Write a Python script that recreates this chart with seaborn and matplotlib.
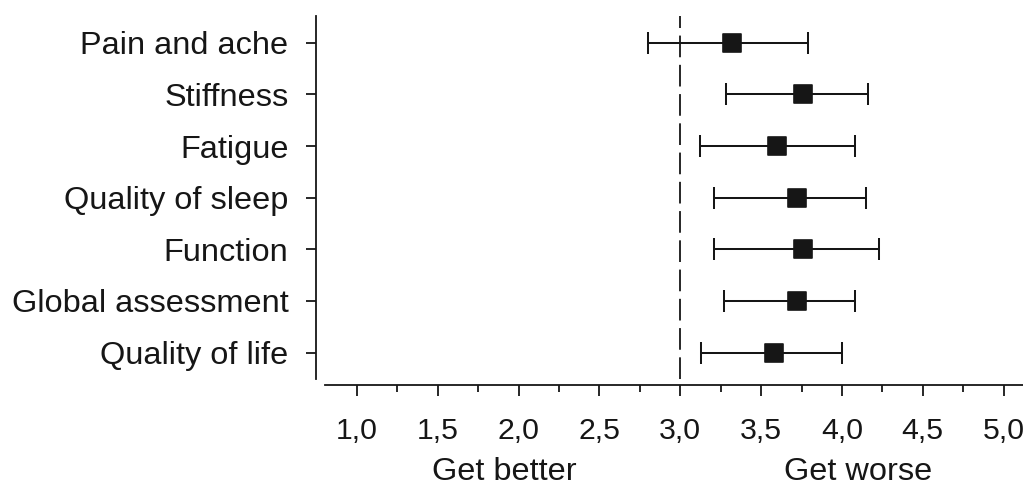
import numpy as np
import matplotlib
matplotlib.use("Agg")
import matplotlib.pyplot as plt
import matplotlib.transforms as mtransforms
from matplotlib.ticker import FixedLocator, FixedFormatter
import seaborn as sns

# values
categories = [
    "Pain and ache",
    "Stiffness",
    "Fatigue",
    "Quality of sleep",
    "Function",
    "Global assessment",
    "Quality of life",
]
means = [3.32, 3.76, 3.60, 3.72, 3.76, 3.72, 3.58]
lower = [2.80, 3.28, 3.12, 3.21, 3.21, 3.27, 3.13]
upper = [3.79, 4.16, 4.08, 4.15, 4.23, 4.08, 4.00]

xticks = [1.0, 1.5, 2.0, 2.5, 3.0, 3.5, 4.0, 4.5, 5.0]
xtick_labels = ["1,0", "1,5", "2,0", "2,5", "3,0", "3,5", "4,0", "4,5", "5,0"]
xminor = [1.25, 1.75, 2.25, 2.75, 3.25, 3.75, 4.25, 4.75]
reference = 3.0
direction_labels = ["Get better", "Get worse"]
direction_pos = [1.91, 4.10]

sns.set_style("ticks")
plt.rcParams["font.family"] = ["Liberation Sans", "DejaVu Sans"]

ink = "#161616"
fs = 23.4

fig = plt.figure(figsize=(10.23, 4.88), dpi=100)
ax = fig.add_axes([0.3086, 0.2234, 0.6914, 0.7438])

ypos = np.arange(len(categories))
means_arr = np.array(means)
xerr = np.vstack([means_arr - np.array(lower), np.array(upper) - means_arr])

ax.axvline(reference, color=ink, lw=1.3, linestyle=(0, (12, 4.2)), zorder=1)
ax.errorbar(means, ypos, xerr=xerr, fmt="none", ecolor=ink, elinewidth=1.45,
            capsize=8, capthick=1.45, zorder=2)
sns.scatterplot(x=means, y=ypos, marker="s", s=175, color=ink, edgecolor=ink,
                linewidth=1.2, ax=ax, zorder=3, legend=False)
for coll in ax.collections:
    coll.set_joinstyle("round")

ax.set_xlim(0.745, 5.12)
ax.set_ylim(6.51, -0.517)

ax.xaxis.set_major_locator(FixedLocator(xticks))
ax.xaxis.set_major_formatter(FixedFormatter(xtick_labels))
ax.xaxis.set_minor_locator(FixedLocator(xminor))
ax.set_yticks(ypos)
ax.set_yticklabels(categories)

sns.despine(ax=ax)
ax.spines["bottom"].set_position(("outward", 4))
ax.spines["bottom"].set_bounds(0.8, 5.12)
for side in ["left", "bottom"]:
    ax.spines[side].set_linewidth(1.3)
    ax.spines[side].set_color(ink)

ax.tick_params(axis="x", which="major", length=8, width=1.3, pad=15.5,
               labelsize=21.8, colors=ink)
ax.tick_params(axis="x", which="minor", length=5, width=1.3, color=ink)
ax.tick_params(axis="y", length=7.5, width=1.3, pad=12, labelsize=fs, colors=ink)
ax.set_xlabel("")
ax.set_ylabel("")

trans = mtransforms.blended_transform_factory(ax.transData, fig.transFigure)
for label, xp in zip(direction_labels, direction_pos):
    ax.text(xp, 0.5 / 488, label, transform=trans, ha="center", va="bottom",
            fontsize=fs, color=ink)

fig.savefig("out.png", dpi=100)
